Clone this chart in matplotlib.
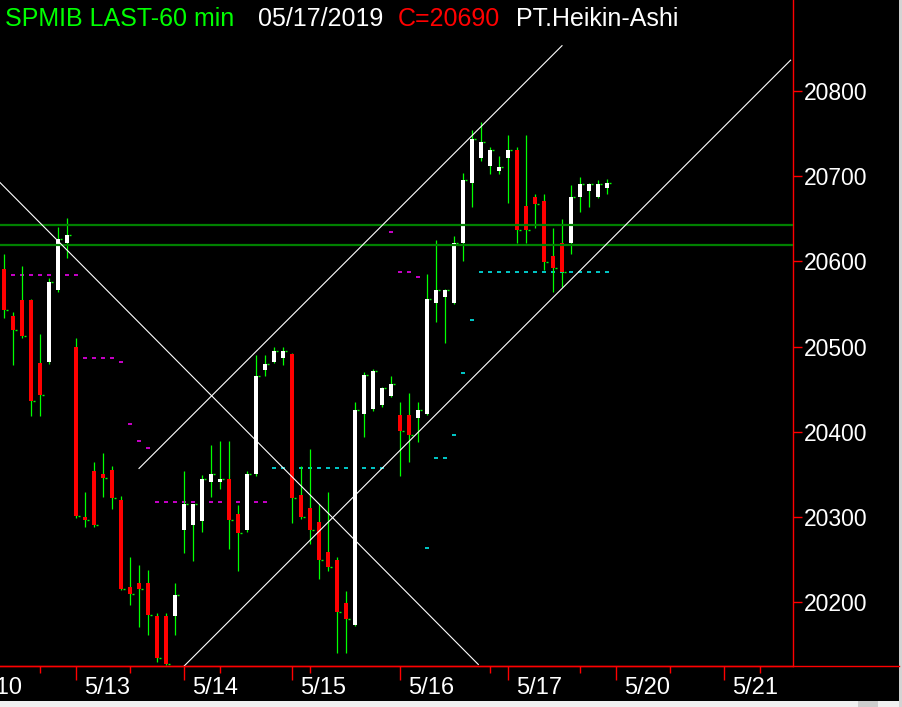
import matplotlib
matplotlib.use("Agg")
import matplotlib.pyplot as plt
import matplotlib.transforms as mtransforms
from matplotlib.lines import Line2D
from matplotlib.patches import Rectangle

plt.rcParams["font.family"] = ["Liberation Sans", "DejaVu Sans"]

# hourly Heikin-Ashi bars, index 0 = first visible bar (5/10 afternoon)
opens = [20591, 20536, 20555, 20555, 20481, 20482, 20566, 20622,
         20500, 20300, 20354, 20350, 20355, 20320, 20218, 20223, 20223, 20184, 20184, 20184,
         20285, 20291, 20295, 20341, 20341, 20345, 20304, 20285, 20350, 20472, 20482, 20487,
         20491, 20326, 20310, 20294, 20259, 20250, 20199, 20173, 20421, 20427, 20431, 20442,
         20420, 20420, 20416, 20421, 20551, 20558, 20551, 20622, 20692, 20721, 20712, 20706,
         20721, 20731, 20665, 20675, 20671, 20606, 20621, 20622, 20676, 20682, 20676, 20686]
highs = [20609, 20541, 20594, 20556, 20515, 20580, 20640, 20651,
         20510, 20329, 20365, 20375, 20360, 20325, 20253, 20244, 20238, 20187, 20187, 20222,
         20354, 20315, 20349, 20384, 20389, 20389, 20314, 20354, 20490, 20490, 20499, 20499,
         20492, 20360, 20380, 20315, 20329, 20253, 20213, 20435, 20470, 20474, 20452, 20465,
         20435, 20446, 20435, 20585, 20625, 20567, 20630, 20704, 20754, 20763, 20734, 20724,
         20748, 20734, 20748, 20679, 20679, 20639, 20650, 20690, 20699, 20692, 20695, 20696]
lows = [20534, 20478, 20510, 20419, 20419, 20480, 20564, 20604,
        20299, 20288, 20288, 20324, 20309, 20214, 20197, 20171, 20161, 20130, 20126, 20161,
        20258, 20248, 20283, 20324, 20333, 20262, 20237, 20283, 20348, 20465, 20481, 20478,
        20293, 20298, 20268, 20227, 20237, 20141, 20141, 20172, 20394, 20424, 20429, 20441,
        20348, 20364, 20388, 20420, 20529, 20504, 20550, 20600, 20664, 20718, 20703, 20703,
        20669, 20621, 20621, 20639, 20590, 20564, 20570, 20609, 20658, 20664, 20674, 20679]
closes = [20543, 20519, 20512, 20436, 20443, 20576, 20626, 20631,
          20301, 20296, 20291, 20346, 20322, 20215, 20210, 20215, 20185, 20134, 20128, 20208,
          20315, 20315, 20345, 20350, 20345, 20296, 20281, 20350, 20466, 20480, 20495, 20495,
          20322, 20300, 20285, 20250, 20241, 20189, 20180, 20426, 20467, 20471, 20451, 20456,
          20401, 20396, 20426, 20556, 20566, 20566, 20621, 20695, 20744, 20740, 20731, 20711,
          20731, 20637, 20637, 20667, 20599, 20592, 20587, 20675, 20691, 20691, 20691, 20692]

# day boundaries (bar index) and their labels
day_starts = [-4, 8, 20, 32, 44, 56, 68, 80]
day_labels = ["5/10", "5/13", "5/14", "5/15", "5/16", "5/17", "5/20", "5/21"]
minor_ticks = [4, 14, 24, 34, 54, 64, 74, 84]
price_ticks = [20200, 20300, 20400, 20500, 20600, 20700, 20800]

# pivot-style dotted markers
magenta_bars = [0, 1, 2, 3, 4, 5, 6, 7, 8, 9, 10, 11, 12, 13, 14, 15, 16,
                17, 18, 19, 20, 21, 22, 23, 24, 25, 26, 27, 28, 29, 43, 44, 45, 46]
magenta_vals = [20584] * 9 + [20487, 20487, 20487, 20487, 20482, 20409, 20389, 20381] + \
               [20318] * 13 + [20634, 20588, 20588, 20582]
cyan_bars = list(range(30, 43)) + [47, 48, 49, 50, 51, 52] + list(range(53, 68))
cyan_vals = [20357] * 13 + [20264, 20369, 20369, 20396, 20469, 20531] + [20587] * 15

# support / resistance
hlines_vals = [20643, 20619]
trend_lines = [
    ((-0.5, 52.7), (20693, 20127)),
    ((15.0, 62.0), (20357, 20853)),
    ((20.0, 87.4), (20125, 20836)),
]

GREEN = "#00ff00"
RED = "#ff0000"

fig = plt.figure(figsize=(9.02, 7.07), dpi=100, facecolor="black")
ax = fig.add_axes([0, 41 / 707, 793 / 902, 666 / 707])
ax.set_facecolor("black")
ax.set_xlim(-4 / 9, 789 / 9)
ax.set_ylim(20125.2, 20906.6)

# dotted markers
for bx, val in zip(magenta_bars, magenta_vals):
    ax.hlines(val, bx - 0.17, bx + 0.17, color="#ff00ff", lw=1.1, zorder=1)
for bx, val in zip(cyan_bars, cyan_vals):
    ax.hlines(val, bx - 0.17, bx + 0.17, color="#00ffff", lw=1.1, zorder=1)

# candles
xs = range(len(opens))
for i, o, h, l, c in zip(xs, opens, highs, lows, closes):
    ax.vlines(i, l, h, color=GREEN, lw=0.9, zorder=2)
    col = "white" if c >= o else RED
    ax.bar(i, max(abs(c - o), 2.5), bottom=min(o, c), width=0.45,
           color=col, linewidth=0, zorder=3)
    ax.hlines(c, i + 0.22, i + 0.4, color=GREEN, lw=1.0, zorder=3)

for v in hlines_vals:
    ax.axhline(v, color="#008000", lw=1.6, zorder=4)
for (x0, x1), (y0, y1) in trend_lines:
    ax.plot([x0, x1], [y0, y1], color="white", lw=0.8, zorder=5)

# axes styling
for side in ("left", "top"):
    ax.spines[side].set_visible(False)
ax.spines["right"].set_color(RED)
ax.spines["bottom"].set_color(RED)
ax.spines["right"].set_linewidth(1.0)
ax.spines["bottom"].set_linewidth(1.0)

ax.yaxis.tick_right()
ax.set_yticks(price_ticks)
ax.set_yticklabels([str(p) for p in price_ticks])
ax.tick_params(axis="y", colors=RED, labelcolor="white", length=6.5, width=1.0,
               labelsize=16.5, pad=1)

ax.set_xticks([d for d in day_starts if d >= 0])
ax.set_xticklabels([])
ax.set_xticks(minor_ticks, minor=True)
ax.tick_params(axis="x", which="major", colors=RED, length=10, width=1.0)
ax.tick_params(axis="x", which="minor", colors=RED, length=5, width=1.0)

trans = mtransforms.blended_transform_factory(ax.transData, fig.transFigure) + \
    mtransforms.ScaledTranslation(8 / 100, 0, fig.dpi_scale_trans)
for d, lab in zip(day_starts, day_labels):
    ax.text(d, 1 - 688 / 707, lab, transform=trans, color="white", fontsize=17,
            ha="left", va="center", clip_on=False)

# header
header = [(5, "SPMIB LAST-60 min", GREEN), (258, "05/17/2019", "white"),
          (398, "C=20690", RED), (516, "PT.Heikin-Ashi", "white")]
for px, txt, col in header:
    fig.text(px / 902, 1 - 26 / 707, txt, color=col, fontsize=18, ha="left", va="baseline")

# frame bits outside the plot
fig.add_artist(Line2D([0, 899 / 902], [41 / 707, 41 / 707], color=RED, lw=1.0))
fig.add_artist(Rectangle((0, 0), 1, 6 / 707, transform=fig.transFigure,
                         facecolor="#f0f0f0", edgecolor="none"))
fig.add_artist(Rectangle((858 / 902, 0), 20 / 902, 6 / 707, transform=fig.transFigure,
                         facecolor="#cdcdcd", edgecolor="none"))
fig.add_artist(Rectangle((899 / 902, 0), 3 / 902, 1, transform=fig.transFigure,
                         facecolor="#d4d4d4", edgecolor="none"))

fig.savefig("out.png", dpi=100, facecolor="black")
